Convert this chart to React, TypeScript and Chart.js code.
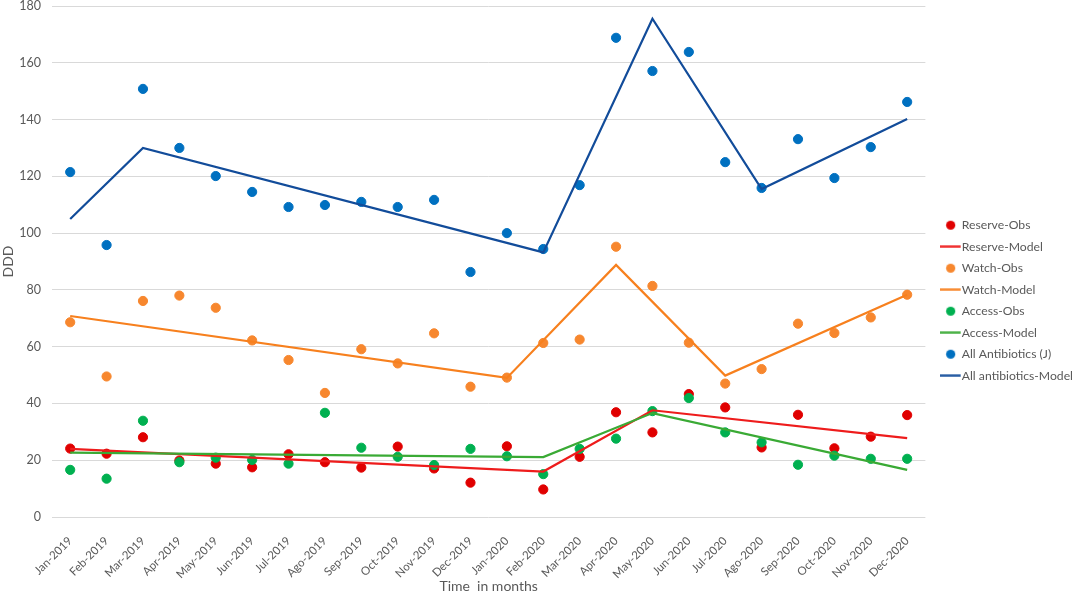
import { useEffect, useRef } from "react";
import { Chart, registerables } from "chart.js";

Chart.register(...registerables);

const months = [
  "Jan-2019", "Feb-2019", "Mar-2019", "Apr-2019", "May-2019", "Jun-2019",
  "Jul-2019", "Ago-2019", "Sep-2019", "Oct-2019", "Nov-2019", "Dec-2019",
  "Jan-2020", "Feb-2020", "Mar-2020", "Apr-2020", "May-2020", "Jun-2020",
  "Jul-2020", "Ago-2020", "Sep-2020", "Oct-2020", "Nov-2020", "Dec-2020",
];

const reserveObs = [
  24.1, 22.3, 28.1, 19.9, 18.8, 17.5, 22.1, 19.3, 17.4, 24.8, 17.1, 12.1,
  24.9, 9.7, 21.2, 36.9, 29.8, 43.3, 38.6, 24.5, 36.0, 24.2, 28.3, 35.9,
];
const watchObs = [
  68.6, 49.5, 76.1, 78.0, 73.7, 62.2, 55.3, 43.7, 59.1, 54.1, 64.7, 45.9,
  49.1, 61.3, 62.5, 95.2, 81.4, 61.4, 47.0, 52.1, 68.1, 64.8, 70.3, 78.3,
];
const accessObs = [
  16.6, 13.5, 33.9, 19.3, 20.9, 20.1, 18.8, 36.7, 24.4, 21.2, 18.3, 24.0,
  21.4, 15.1, 24.0, 27.6, 37.3, 41.9, 29.8, 26.3, 18.4, 21.6, 20.5, 20.5,
];
const allObs = [
  121.5, 95.8, 150.8, 130.0, 120.1, 114.5, 109.2, 109.9, 111.0, 109.2, 111.7, 86.3,
  100.0, 94.4, 116.9, 168.8, 157.1, 163.8, 125.0, 115.9, 133.1, 119.4, 130.3, 146.2,
];

// model lines: only the break points are given, the segments span between them
const reserveModel = [
  24.0, null, null, null, null, null, null, null, null, null, null, null,
  null, 16.0, null, null, 37.6, null, null, null, null, null, null, 27.8,
];
const watchModel = [
  70.8, null, null, null, null, null, null, null, null, null, null, null,
  49.0, null, null, 88.8, null, null, 49.8, null, null, null, null, 78.3,
];
const accessModel = [
  22.7, null, null, null, null, null, null, null, null, null, null, null,
  null, 21.1, null, null, 36.6, null, null, null, null, null, null, 16.6,
];
const allModel = [
  105.0, null, 130.0, null, null, null, null, null, null, null, null, null,
  null, 93.2, null, null, 175.5, null, null, 115.5, null, null, null, 140.2,
];

const yTicks = [0, 20, 40, 60, 80, 100, 120, 140, 160, 180];

const textColor = "#595959";
const fontFamily = "Lato, 'Open Sans', sans-serif";

// small canvases used as legend markers (dot for Obs, short line for Model)
const dotMarker = (color: string) => {
  const c = document.createElement("canvas");
  c.width = 11;
  c.height = 11;
  const g = c.getContext("2d")!;
  g.fillStyle = color;
  g.beginPath();
  g.arc(5.5, 5.5, 4.6, 0, Math.PI * 2);
  g.fill();
  return c;
};

const lineMarker = (color: string) => {
  const c = document.createElement("canvas");
  c.width = 22;
  c.height = 3;
  const g = c.getContext("2d")!;
  g.fillStyle = color;
  g.fillRect(0, 0.4, 21, 2.2);
  return c;
};

// leave a gap between plot area and legend, like the original
const legendShift = {
  id: "legendShift",
  afterLayout: (chart: Chart) => {
    const legend = chart.legend;
    if (!legend) return;
    legend.left += 11;
    legend.right += 11;
    legend.top += 3;
    legend.bottom += 3;
  },
};

const obs = (label: string, data: number[], color: string, order: number) => ({
  type: "line" as const,
  label,
  data,
  showLine: false,
  pointStyle: "circle",
  pointRadius: 4.6,
  pointBackgroundColor: color,
  pointBorderColor: color,
  backgroundColor: color,
  borderColor: color,
  order,
});

const model = (label: string, data: (number | null)[], color: string, order: number) => ({
  type: "line" as const,
  label,
  data,
  spanGaps: true,
  borderColor: color,
  backgroundColor: color,
  borderWidth: 2.2,
  pointRadius: 0,
  tension: 0,
  order,
});

export default function App() {
  const chartRef = useRef<HTMLCanvasElement>(null);

  useEffect(() => {
    document.body.style.margin = "0";
    if (!chartRef.current) return;
    const ctx = chartRef.current.getContext("2d");
    if (!ctx) return;

    const colors = ["#e00000", "#ee1c1c", "#f7872e", "#f7801e", "#00b050", "#3aaa35", "#0070c0", "#124c9a"];
    const markers = colors.map((c, i) => (i % 2 === 0 ? dotMarker(c) : lineMarker(c)));

    const chart = new Chart(ctx, {
      type: "line",
      data: {
        labels: months,
        datasets: [
          obs("Reserve-Obs", reserveObs, colors[0], 7),
          model("Reserve-Model", reserveModel, colors[1], 3),
          obs("Watch-Obs", watchObs, colors[2], 6),
          model("Watch-Model", watchModel, colors[3], 2),
          obs("Access-Obs", accessObs, colors[4], 5),
          model("Access-Model", accessModel, colors[5], 1),
          obs("All Antibiotics (J)", allObs, colors[6], 4),
          model("All antibiotics-Model", allModel, colors[7], 0),
        ],
      },
      plugins: [legendShift],
      options: {
        responsive: true,
        maintainAspectRatio: false,
        animation: false,
        layout: {
          padding: { top: 0, right: 0, bottom: 0, left: 0 },
        },
        plugins: {
          tooltip: { enabled: false },
          legend: {
            position: "right",
            labels: {
              usePointStyle: true,
              pointStyleWidth: 10,
              boxHeight: 10,
              padding: 9.3,
              color: textColor,
              font: { family: fontFamily, size: 12.2 },
              generateLabels: (ch) => {
                const items = Chart.defaults.plugins.legend.labels.generateLabels(ch);
                return items.map((item) => ({
                  ...item,
                  pointStyle: markers[item.datasetIndex ?? 0],
                }));
              },
              sort: (a, b) => (a.datasetIndex ?? 0) - (b.datasetIndex ?? 0),
            },
          },
        },
        scales: {
          x: {
            offset: true,
            afterFit: (axis) => {
              axis.height = 78;
            },
            grid: { display: false },
            border: { display: false },
            ticks: {
              color: textColor,
              maxRotation: 45,
              minRotation: 45,
              autoSkip: false,
              padding: 9,
              font: { family: fontFamily, size: 11.5 },
            },
            title: {
              display: true,
              text: "Time  in months",
              color: textColor,
              padding: { top: 0, bottom: 0 },
              font: { family: fontFamily, size: 14 },
            },
          },
          y: {
            min: 0,
            max: 180,
            afterBuildTicks: (axis) => {
              axis.ticks = yTicks.map((value) => ({ value }));
            },
            afterFit: (axis) => {
              axis.width = 52;
              axis.paddingTop = 6;
              axis.paddingBottom = 0;
            },
            grid: { color: "#d9d9d9", lineWidth: 1, drawTicks: false },
            border: { display: false },
            ticks: {
              color: textColor,
              padding: 11,
              font: { family: fontFamily, size: 12.5 },
            },
            title: {
              display: true,
              text: "DDD",
              color: textColor,
              padding: { top: 0, bottom: 0 },
              font: { family: fontFamily, size: 14 },
            },
          },
        },
      },
    });

    return () => chart.destroy();
  }, []);

  return (
    <div style={{ width: 1072, height: 595, position: "relative" }}>
      <canvas ref={chartRef} />
    </div>
  );
}
